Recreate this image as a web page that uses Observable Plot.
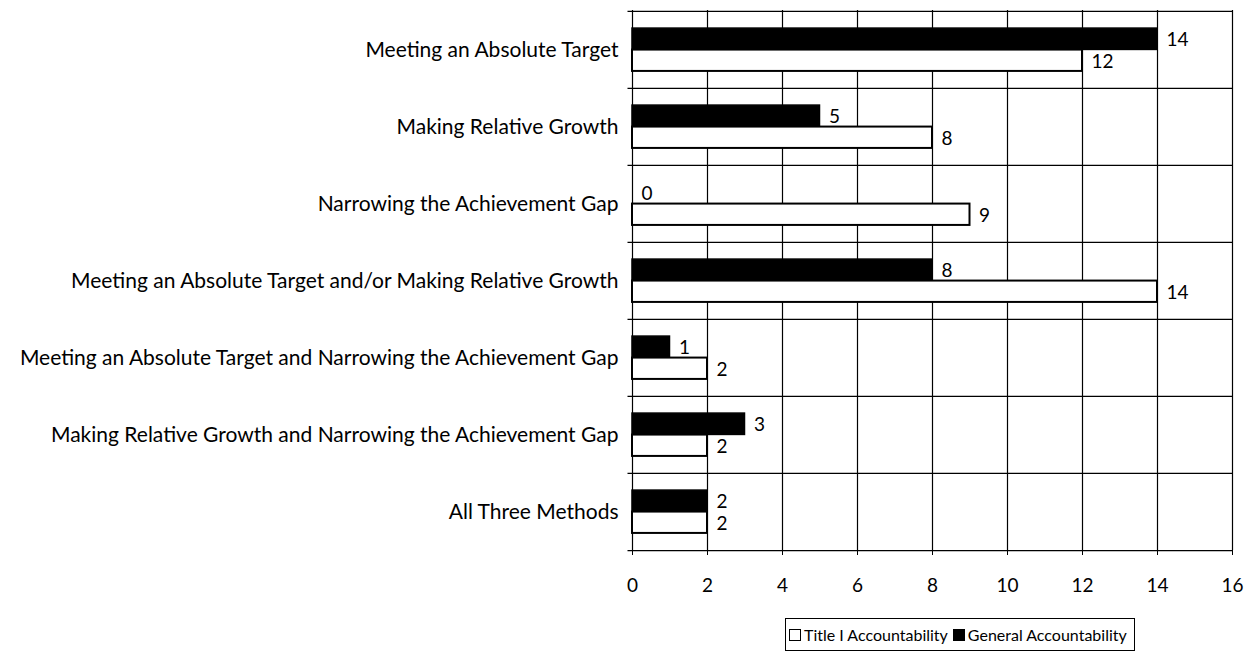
<!DOCTYPE html>
<html>
<head>
<meta charset="utf-8">
<script src="https://cdn.jsdelivr.net/npm/d3@7"></script>
<script src="https://cdn.jsdelivr.net/npm/@observablehq/plot@0.6"></script>
<style>
  body { margin: 0; background: #fff; font-family: Lato, "DejaVu Sans", sans-serif; }
  #chart svg { display: block; }
  .legend {
    position: absolute; left: 785px; top: 618px; width: 350px; height: 33px; box-sizing: border-box;
    border: 1.5px solid #000; padding: 0 3px; font-size: 16px; color: #000;
    display: flex; align-items: center; white-space: nowrap;
  }
  .sw { display: inline-block; width: 12px; height: 12px; border: 1.5px solid #000; margin-right: 3px; box-sizing: border-box; }
</style>
</head>
<body>
<div id="chart"></div>
<div class="legend" id="legend"></div>
<script>
const categories = [
  "Meeting an Absolute Target",
  "Making Relative Growth",
  "Narrowing the Achievement Gap",
  "Meeting an Absolute Target and/or Making Relative Growth",
  "Meeting an Absolute Target and Narrowing the Achievement Gap",
  "Making Relative Growth and Narrowing the Achievement Gap",
  "All Three Methods"
];
const seriesNames = ["Title I Accountability", "General Accountability"];
const titleI = [12, 8, 9, 14, 2, 2, 2];
const general = [14, 5, 0, 8, 1, 3, 2];
const xTicks = [0, 2, 4, 6, 8, 10, 12, 14, 16];

const rowsGeneral = categories.map((c, i) => ({category: c, value: general[i]}));
const rowsTitle = categories.map((c, i) => ({category: c, value: titleI[i]}));

const width = 1252, height = 606;
const marginTop = 10, marginBottom = 56, marginLeft = 632, marginRight = 20;
const bw = (height - marginTop - marginBottom) / categories.length;
const barH = 21.5;
const inGapOuter = bw / 2 - barH;

const fontFamily = "Lato, 'DejaVu Sans', sans-serif";

const chart = Plot.plot({
  width, height, marginTop, marginBottom, marginLeft, marginRight,
  style: {fontFamily, fontSize: "21px", color: "#000", background: "#fff"},
  x: {domain: [0, 16], ticks: xTicks, label: null},
  y: {domain: categories, padding: 0, label: null},
  marks: [
    Plot.ruleX(xTicks, {stroke: "#000", strokeWidth: 1.2}),
    Plot.ruleY(categories, {y: d => d, dy: -bw / 2, x1: -0.12, x2: 16, stroke: "#000", strokeWidth: 1.2}),
    Plot.ruleY(categories.slice(-1), {y: d => d, dy: bw / 2, x1: -0.12, x2: 16, stroke: "#000", strokeWidth: 1.2}),
    Plot.barX(rowsGeneral, {x: "value", y: "category", fill: "#000", stroke: "#000", strokeWidth: 1.5,
      insetTop: inGapOuter, insetBottom: bw / 2}),
    Plot.barX(rowsTitle, {x: "value", y: "category", fill: "#fff", stroke: "#000", strokeWidth: 2,
      insetTop: bw / 2, insetBottom: inGapOuter}),
    Plot.text(rowsGeneral, {x: "value", y: "category", text: d => String(d.value), dx: 9, dy: -barH / 2 + 1,
      textAnchor: "start", fill: "#000", fontSize: 19}),
    Plot.text(rowsTitle, {x: "value", y: "category", text: d => String(d.value), dx: 9, dy: barH / 2 + 1,
      textAnchor: "start", fill: "#000", fontSize: 19}),
    Plot.axisX({ticks: xTicks, tickSize: 5, tickPadding: 23, fontSize: 19}),
    Plot.axisY({tickSize: 0, tickPadding: 14, fontSize: 21})
  ]
});
document.getElementById("chart").appendChild(chart);

const legend = document.getElementById("legend");
const colors = ["#fff", "#000"];
seriesNames.forEach((name, i) => {
  const item = document.createElement("span");
  item.style.display = "inline-flex";
  item.style.alignItems = "center";
  item.style.marginRight = i === 0 ? "5px" : "0";
  const sw = document.createElement("span");
  sw.className = "sw";
  sw.style.background = colors[i];
  item.appendChild(sw);
  item.appendChild(document.createTextNode(name));
  legend.appendChild(item);
});
</script>
</body>
</html>
